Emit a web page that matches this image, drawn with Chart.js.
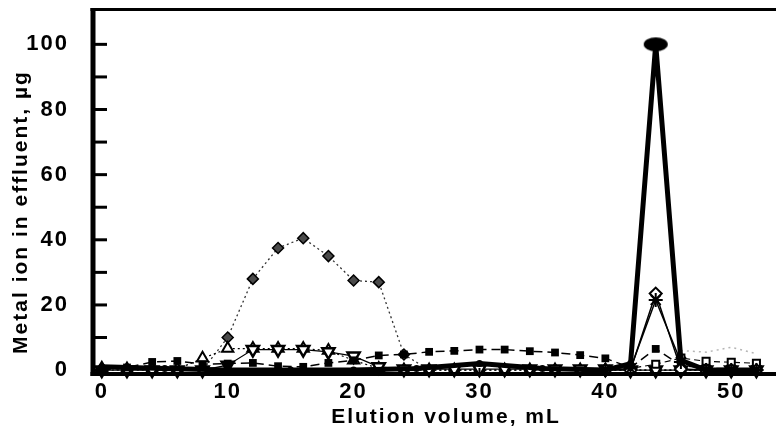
<!DOCTYPE html>
<html>
<head>
<meta charset="utf-8">
<script src="https://cdn.jsdelivr.net/npm/chart.js@4.4.1/dist/chart.umd.min.js"></script>
<style>
body { margin: 0; background: #fff; }
</style>
</head>
<body>
<canvas id="elution" width="776" height="437"></canvas>
<script>
// elution volume, mL
var volume = [0, 2, 4, 6, 8, 10, 12, 14, 16, 18, 20, 22, 24, 26, 28, 30, 32, 34, 36, 38, 40, 42, 44, 46, 48, 50, 52];
var volumeCircle = [0, 5, 10, 15, 20, 25, 30, 35, 40, 42, 44, 46, 48, 50, 52];
var volumeLate = [40, 42, 44, 46, 48, 50, 52];
var volumeTail = [46, 48, 50, 52];

// metal ion in effluent, ug
var filledCircle  = [1, 0.5, 0, 0, 0, 0.5, 2, 0.5, 0, 2, 100, 3, 0, 0, 0];
var filledDiamond = [0, 0, 0, 0, 0, 10, 28, 37.5, 40.5, 35, 27.5, 27, 4.8, 0, 0, 0, 0, 0, 0, 0, 0, 0, 0, 0, 0, 0, 0];
var openTriUp     = [0.6, 0.3, 0.3, 0.3, 3.6, 6.6, 6.6, 6.6, 6.6, 6, 3, 0.5, 0, 0, 0, 0, 0, 0, 0, 0, 0, 0, 0, 0, 0, 0, 0];
var openTriDown   = [0, 0, 0, 0, 0, 1.5, 6.3, 6.3, 6.3, 5.6, 4.3, 1, 0.3, 0.3, 0.3, 0.3, 0.3, 0.3, 0.3, 0.3, 0.3, 0, 0, 0, 0, 0, 0];
var filledSquare  = [0, 0.8, 2.5, 2.8, 1.8, 2, 2.2, 1.2, 1, 2.2, 3, 4.5, 4.8, 5.6, 5.9, 6.3, 6.3, 5.8, 5.4, 4.6, 3.6, 0.8, 6.5, 1.5, 0.5, 0.5, 0.3];
var openSquare    = [0, 0.5, 1.8, 3.7, 2.7, 2.4, 2.1];
var openDiamond   = [0, 0, 23.5, 0.3, 0, 0, 0];
var star          = [0, 0.5, 21.5, 2.5, 0, 0, 0];
var faintTail     = [6, 5.5, 7, 5];

var yTickLabels = [0, 20, 40, 60, 80, 100];
var yTickMarks = [0, 10, 20, 30, 40, 50, 60, 70, 80, 90, 100];
var xTickLabels = [0, 10, 20, 30, 40, 50];

var font = '"Liberation Sans", Arial, sans-serif';

function pairs(xs, ys) {
	return xs.map(function (x, i) { return { x: x, y: ys[i] }; });
}

// the big peak is drawn as a flat ellipse
var ellipse = document.createElement('canvas');
ellipse.width = 26;
ellipse.height = 16;
var ec = ellipse.getContext('2d');
ec.fillStyle = '#000';
ec.beginPath();
ec.ellipse(13, 8, 12, 7, 0, 0, Math.PI * 2);
ec.fill();

var framePlugin = {
	id: 'frame',
	beforeUpdate: function (chart) { chart.ctx.letterSpacing = '2px'; },
	beforeDraw: function (chart) { chart.ctx.letterSpacing = '2px'; },
	afterDraw: function (chart) {
		var c = chart.ctx, a = chart.chartArea;
		var xs = chart.scales.x, ys = chart.scales.y;
		c.save();
		c.strokeStyle = '#000';
		c.lineWidth = 3;
		yTickMarks.forEach(function (v) {
			var py = ys.getPixelForValue(v);
			c.beginPath(); c.moveTo(a.left, py); c.lineTo(a.left + 14, py); c.stroke();
		});
		c.lineWidth = 2;
		xTickLabels.forEach(function (v) {
			var px = xs.getPixelForValue(v);
			c.beginPath(); c.moveTo(px, a.bottom); c.lineTo(px, a.bottom - 6); c.stroke();
		});
		c.lineWidth = 5;
		c.beginPath(); c.moveTo(a.left, a.top - 1.5); c.lineTo(a.left, a.bottom + 2); c.stroke();
		c.lineWidth = 4;
		c.beginPath(); c.moveTo(a.left - 2.5, a.bottom); c.lineTo(chart.width, a.bottom); c.stroke();
		c.lineWidth = 3;
		c.beginPath(); c.moveTo(a.left - 2.5, a.top); c.lineTo(chart.width, a.top); c.stroke();

		// axis titles
		c.fillStyle = '#000';
		c.font = 'bold 21px ' + font;
		c.letterSpacing = '2px';
		c.textAlign = 'center';
		c.textBaseline = 'middle';
		c.fillText('Elution volume, mL', 446, 417);
		c.translate(21, 212);
		c.rotate(-Math.PI / 2);
		c.fillText('Metal ion in effluent, \u00b5g', 0, 0);
		c.restore();
	}
};

function noPadding(s) {
	s.paddingTop = 0;
	s.paddingBottom = 0;
	s.paddingLeft = 0;
	s.paddingRight = 0;
}

var config = {
	type: 'line',
	data: {
		datasets: [{
			data: pairs(volumeCircle, filledCircle),
			borderColor: '#000',
			borderWidth: 5,
			backgroundColor: '#000',
			pointStyle: function (ctx) { return ctx.raw && ctx.raw.y > 50 ? ellipse : 'circle'; },
			pointRadius: 3.5,
			pointBorderWidth: 0
		}, {
			data: pairs(volumeLate, star),
			borderColor: '#000',
			borderWidth: 1.5,
			backgroundColor: '#000',
			pointStyle: 'star',
			pointRadius: 7,
			pointBorderWidth: 2
		}, {
			data: pairs(volumeLate, openDiamond),
			borderColor: '#000',
			borderWidth: 1.5,
			backgroundColor: '#fff',
			pointStyle: 'rectRot',
			pointRadius: 6,
			pointBorderWidth: 2
		}, {
			data: pairs(volume, filledSquare),
			borderColor: '#000',
			borderWidth: 1.5,
			borderDash: [9, 5],
			backgroundColor: '#000',
			pointStyle: 'rect',
			pointRadius: 5.5,
			pointBorderWidth: 0
		}, {
			data: pairs(volumeLate, openSquare),
			borderColor: '#000',
			borderWidth: 1.2,
			borderDash: [6, 4],
			backgroundColor: '#fff',
			pointStyle: 'rect',
			pointRadius: 5,
			pointBorderWidth: 2
		}, {
			data: pairs(volume, openTriDown),
			borderColor: '#000',
			borderWidth: 1.2,
			backgroundColor: '#fff',
			pointStyle: 'triangle',
			rotation: 180,
			pointRadius: 7,
			pointBorderWidth: 2.5
		}, {
			data: pairs(volume, openTriUp),
			borderColor: '#000',
			borderWidth: 1.2,
			borderDash: [2, 3],
			backgroundColor: '#fff',
			pointStyle: 'triangle',
			pointRadius: 6.5,
			pointBorderWidth: 2
		}, {
			data: pairs(volume, filledDiamond),
			borderColor: '#333',
			borderWidth: 1.3,
			borderDash: [2, 3],
			backgroundColor: '#4a4a4a',
			pointStyle: 'rectRot',
			pointRadius: 5.5,
			pointBorderColor: '#000',
			pointBorderWidth: 1.5
		}, {
			data: pairs(volumeTail, faintTail),
			borderColor: '#b5b5b5',
			borderWidth: 1.5,
			borderDash: [2, 4],
			pointRadius: 0
		}]
	},
	options: {
		responsive: false,
		animation: false,
		clip: false,
		layout: { padding: { top: 7, right: 0, left: 0, bottom: 0 } },
		plugins: { legend: { display: false }, tooltip: { enabled: false } },
		elements: { line: { tension: 0 } },
		scales: {
			x: {
				type: 'linear',
				min: -0.7,
				max: 52.8,
				afterBuildTicks: function (s) { s.ticks = xTickLabels.map(function (v) { return { value: v }; }); },
				afterFit: function (s) { s.height = 63; noPadding(s); },
				grid: { display: false },
				border: { display: false },
				ticks: {
					color: '#000',
					padding: -3,
					maxRotation: 0,
					font: { family: font, size: 22, weight: 'bold' }
				}
			},
			y: {
				min: -1.2,
				max: 110.7,
				afterBuildTicks: function (s) { s.ticks = yTickLabels.map(function (v) { return { value: v }; }); },
				afterFit: function (s) { s.width = 93; noPadding(s); },
				grid: { display: false },
				border: { display: false },
				ticks: {
					color: '#000',
					padding: 16,
					font: { family: font, size: 22, weight: 'bold' }
				}
			}
		}
	},
	plugins: [framePlugin]
};

var ctx = document.getElementById('elution').getContext('2d');
window.elutionChart = new Chart(ctx, config);
</script>
</body>
</html>
